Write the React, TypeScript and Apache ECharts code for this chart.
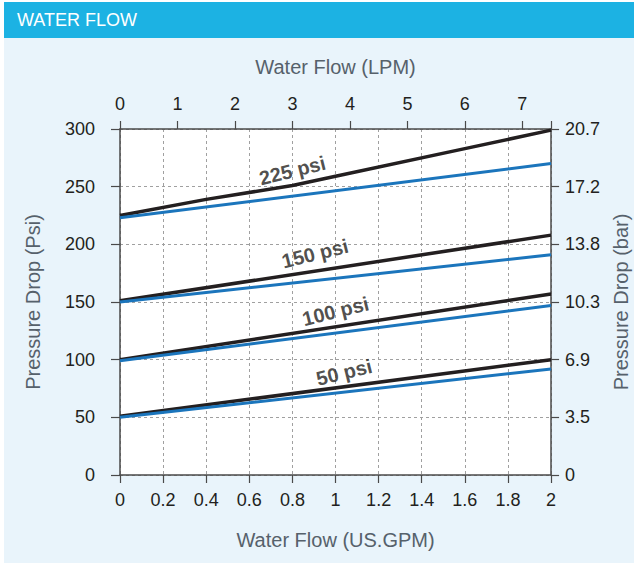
import React, { useEffect, useRef } from "react";
import * as echarts from "echarts";

// ---- data ----
const gpmTicks = [0, 0.2, 0.4, 0.6, 0.8, 1, 1.2, 1.4, 1.6, 1.8, 2];
const lpmMax = 7.5;
const barLabels = ["0", "3.5", "6.9", "10.3", "13.8", "17.2", "20.7"];

const black225: [number, number][] = [[0, 225], [0.4, 239], [0.8, 251], [1.0, 259], [1.6, 283], [2, 299]];
const blue225: [number, number][] = [[0, 223], [2, 270]];
const black150: [number, number][] = [[0, 151], [2, 208]];
const blue150: [number, number][] = [[0, 150], [2, 191]];
const black100: [number, number][] = [[0, 100], [2, 157]];
const blue100: [number, number][] = [[0, 99], [2, 147]];
const black50: [number, number][] = [[0, 51], [2, 100]];
const blue50: [number, number][] = [[0, 50], [2, 92]];

const labelTexts = ["225 psi", "150 psi", "100 psi", "50 psi"];
const labelAnchors: [number, number][] = [[0.8, 264], [0.905, 192], [1.0, 142], [1.04, 89]];

const FONT = "'Liberation Sans', Arial, Helvetica, sans-serif";
const BLACK = "#231f20";
const BLUE = "#1b75bc";
const AXIS = "#4a4a4a";
const NAME = "#56616b";
const TICK_FS = 18;
const NAME_FS = 20;

export default function App() {
  const ref = useRef<HTMLDivElement>(null);
  useEffect(() => {
    if (!ref.current) return;
    const chart = echarts.init(ref.current, null, { renderer: "svg" });
    const lineSeries = (data: [number, number][], color: string, width: number, z: number) => ({
      type: "line",
      data,
      xAxisIndex: 0,
      yAxisIndex: 0,
      showSymbol: false,
      symbol: "none",
      lineStyle: { color, width },
      z,
      silent: true,
    });
    const nameStyle = { color: NAME, fontSize: NAME_FS, fontFamily: FONT };
    const axisLine = { show: true, onZero: false, lineStyle: { color: AXIS, width: 1.5 } };
    const grid = { show: true, lineStyle: { color: "#a0a0a0", type: [3, 3], width: 1 } };
    chart.setOption({
      animation: false,
      backgroundColor: "#ffffff",
      textStyle: { fontFamily: FONT },
      graphic: [
        { type: "rect", shape: { x: 4, y: 38, width: 630, height: 525 }, style: { fill: "#e9f4fb" }, z: -10 },
        { type: "rect", shape: { x: 4, y: 2, width: 630, height: 36 }, style: { fill: "#1cb2e3" }, z: -10 },
        {
          type: "text",
          x: 17,
          y: 20,
          style: { text: "WATER FLOW", fill: "#ffffff", font: `18px ${FONT}`, verticalAlign: "middle" },
        },
      ],
      grid: { left: 120, right: 86, top: 129, bottom: 92, show: true, backgroundColor: "#ffffff", borderWidth: 0 },
      xAxis: [
        {
          type: "value",
          position: "bottom",
          min: 0,
          max: 2,
          interval: 0.2,
          name: "Water Flow (US.GPM)",
          nameLocation: "middle",
          nameGap: 55,
          nameTextStyle: nameStyle,
          axisLine,
          axisTick: { show: true, inside: false, length: 8, lineStyle: { color: AXIS, width: 1.2 } },
          axisLabel: {
            color: "#231f20",
            fontSize: TICK_FS,
            fontFamily: FONT,
            margin: 16,
            formatter: (v: number) => String(Math.round(v * 10) / 10),
          },
          splitLine: grid,
        },
        {
          type: "value",
          position: "top",
          min: 0,
          max: lpmMax,
          interval: 1,
          name: "Water Flow (LPM)",
          nameLocation: "middle",
          nameGap: 52,
          nameTextStyle: nameStyle,
          axisLine,
          axisTick: { show: true, inside: false, length: 8, lineStyle: { color: AXIS, width: 1.2 } },
          axisLabel: {
            color: "#231f20",
            fontSize: TICK_FS,
            fontFamily: FONT,
            margin: 16,
            formatter: (v: number) => (Math.abs(v - Math.round(v)) < 1e-6 ? String(Math.round(v)) : ""),
          },
          splitLine: { show: false },
        },
      ],
      yAxis: [
        {
          type: "value",
          position: "left",
          min: 0,
          max: 300,
          interval: 50,
          name: "Pressure Drop (Psi)",
          nameLocation: "middle",
          nameGap: 77,
          nameTextStyle: nameStyle,
          axisLine,
          axisTick: { show: true, inside: false, length: 9, lineStyle: { color: AXIS, width: 1.2 } },
          axisLabel: { color: "#231f20", fontSize: TICK_FS, fontFamily: FONT, margin: 25 },
          splitLine: grid,
        },
        {
          type: "value",
          position: "right",
          min: 0,
          max: 300,
          interval: 50,
          name: "Pressure Drop (bar)",
          nameLocation: "middle",
          nameGap: 58,
          nameTextStyle: nameStyle,
          axisLine,
          axisTick: { show: true, inside: false, length: 8, lineStyle: { color: AXIS, width: 1.2 } },
          axisLabel: {
            color: "#231f20",
            fontSize: TICK_FS,
            fontFamily: FONT,
            margin: 14,
            formatter: (v: number) => barLabels[Math.round(v / 50)] ?? "",
          },
          splitLine: { show: false },
        },
      ],
      series: [
        lineSeries(black225, BLACK, 3.5, 3),
        lineSeries(blue225, BLUE, 3, 4),
        lineSeries(black150, BLACK, 3.5, 3),
        lineSeries(blue150, BLUE, 3, 4),
        lineSeries(black100, BLACK, 3.5, 3),
        lineSeries(blue100, BLUE, 3, 4),
        lineSeries(black50, BLACK, 3.5, 3),
        lineSeries(blue50, BLUE, 3, 4),
        {
          type: "scatter",
          xAxisIndex: 0,
          yAxisIndex: 0,
          symbolSize: 0,
          silent: true,
          z: 5,
          data: labelAnchors.map((p, i) => ({ value: p, name: labelTexts[i] })),
          label: {
            show: true,
            position: "inside",
            formatter: (p: any) => p.name,
            rotate: 14,
            color: "#231f20",
            fontSize: 20,
            fontWeight: "bold",
            fontFamily: FONT,
            align: "center",
            verticalAlign: "middle",
          },
        },
      ],
    });
    return () => chart.dispose();
  }, []);
  return (
    <div
      ref={ref}
      style={{ position: "fixed", left: 0, top: 0, width: 639, height: 567 }}
    />
  );
}
